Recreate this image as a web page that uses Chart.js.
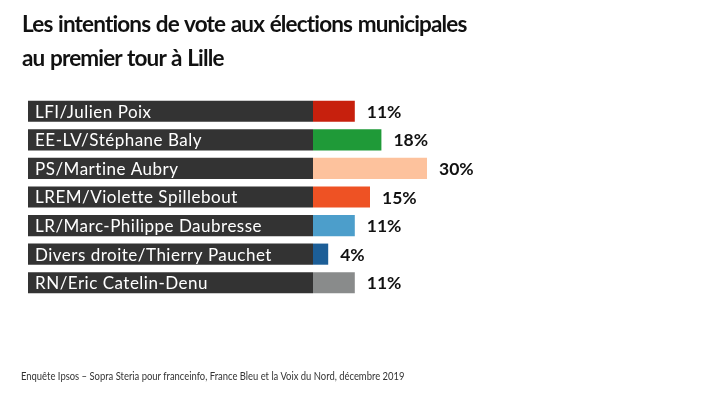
<!DOCTYPE html>
<html>
<head>
<meta charset="utf-8">
<script src="https://cdn.jsdelivr.net/npm/chart.js@4.4.0/dist/chart.umd.min.js"></script>
<style>
  html, body { margin: 0; padding: 0; background: #ffffff; }
  #wrap { position: relative; width: 720px; height: 405px; overflow: hidden; }
  #title { position: absolute; left: 22px; top: 7px; margin: 0; font-family: Lato, sans-serif; font-weight: 700; font-size: 22.5px; line-height: 34px; color: #111; letter-spacing: -0.85px; word-spacing: 1px; }
  #source { position: absolute; left: 21px; top: 369px; font-family: Lato, sans-serif; font-size: 11.5px; color: #333; transform: scaleX(0.82); transform-origin: left top; white-space: nowrap; }
  canvas { position: absolute; left: 0; top: 0; }
</style>
</head>
<body>
<div id="wrap">
  <canvas id="c" width="720" height="405"></canvas>
  <h1 id="title">Les intentions de vote aux élections municipales<br>au premier tour à Lille</h1>
  <div id="source">Enquête Ipsos – Sopra Steria pour franceinfo, France Bleu et la Voix du Nord, décembre 2019</div>
</div>
<script>
const categories = [
  "LFI/Julien Poix",
  "EE-LV/Stéphane Baly",
  "PS/Martine Aubry",
  "LREM/Violette Spillebout",
  "LR/Marc-Philippe Daubresse",
  "Divers droite/Thierry Pauchet",
  "RN/Eric Catelin-Denu"
];
const values = [11, 18, 30, 15, 11, 4, 11];
const valueLabels = ["11%", "18%", "30%", "15%", "11%", "4%", "11%"];
const barColors = ["#c7200d", "#1f9a38", "#fdc29d", "#ee5224", "#4c9ecb", "#1c5e97", "#898b8b"];
const labelBoxStart = -75;

const boxData = categories.map(() => [labelBoxStart, 0]);

const labelPlugin = {
  id: 'labels',
  afterDatasetsDraw(chart) {
    const ctx = chart.ctx;
    const xs = chart.scales.x;
    const boxMeta = chart.getDatasetMeta(0);
    const valMeta = chart.getDatasetMeta(1);
    const left = xs.getPixelForValue(labelBoxStart);
    ctx.save();
    ctx.textBaseline = 'middle';
    boxMeta.data.forEach((el, i) => {
      ctx.fillStyle = '#ffffff';
      ctx.font = '400 17px Lato, sans-serif';
      if ('letterSpacing' in ctx) ctx.letterSpacing = '0.5px';
      ctx.textAlign = 'left';
      ctx.fillText(categories[i], left + 7, el.y + 1);
    });
    if ('letterSpacing' in ctx) ctx.letterSpacing = '0px';
    valMeta.data.forEach((el, i) => {
      ctx.fillStyle = '#111111';
      ctx.font = '700 17.5px Lato, sans-serif';
      ctx.textAlign = 'left';
      ctx.fillText(valueLabels[i], el.x + 12, el.y + 1);
    });
    ctx.restore();
  }
};

new Chart(document.getElementById('c'), {
  type: 'bar',
  data: {
    labels: categories,
    datasets: [
      { data: boxData, backgroundColor: '#333333', grouped: false, barPercentage: 0.74, categoryPercentage: 1 },
      { data: values, backgroundColor: barColors, grouped: false, barPercentage: 0.74, categoryPercentage: 1 }
    ]
  },
  options: {
    indexAxis: 'y',
    responsive: false,
    animation: false,
    layout: { padding: { left: 28, right: 27, top: 97, bottom: 108 } },
    scales: {
      x: { display: false, min: labelBoxStart, max: 100 },
      y: { display: false }
    },
    plugins: { legend: { display: false }, tooltip: { enabled: false } }
  },
  plugins: [labelPlugin]
});
</script>
</body>
</html>
